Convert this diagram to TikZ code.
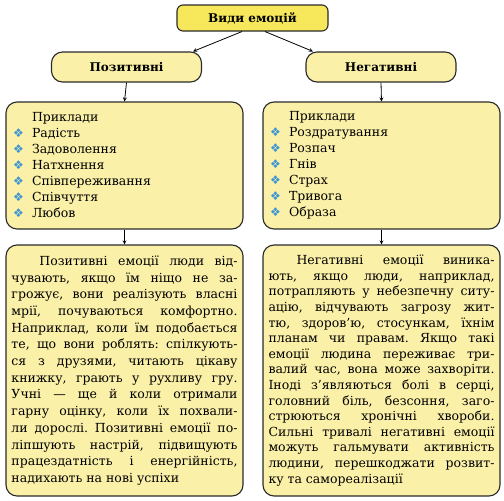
\documentclass[tikz,border=0pt]{standalone}
\usepackage{fontspec}
\setmainfont{DejaVu Serif}
\newfontfamily\bulletfont{DejaVu Sans}
\usetikzlibrary{calc}
\definecolor{titleyellow}{HTML}{F6E85A}
\definecolor{boxyellow}{HTML}{FBF0A8}
\definecolor{boxline}{HTML}{2A2A2A}
\definecolor{bulletblue}{HTML}{3E95D3}
\newcommand{\exitem}[1]{\makebox[19pt][l]{\bulletfont\color{bulletblue}\fontsize{12}{12}\selectfont\raisebox{0.5pt}{❖}}#1}
\frenchspacing

\begin{document}
\begin{tikzpicture}[
        x=1pt,
        y=-1pt,
        title box/.style={draw=boxline,line width=1.1pt,fill=titleyellow,rounded corners=6pt,
            minimum width=151pt,minimum height=26pt,font=\bfseries\fontsize{12}{14}\selectfont},
        kind box/.style={draw=boxline,line width=1.1pt,fill=boxyellow,rounded corners=11pt,
            minimum width=150pt,minimum height=30pt,font=\bfseries\fontsize{12}{14}\selectfont},
        example box/.style={draw=boxline,line width=1.1pt,fill=boxyellow,rounded corners=11pt,
            minimum height=127pt,text width=223pt,inner xsep=7pt,align=left,
            font=\fontsize{12.5}{16}\selectfont},
        text box/.style={draw=boxline,line width=1.1pt,fill=boxyellow,rounded corners=11pt,
            minimum height=251pt,text width=226pt,inner xsep=5.5pt,align=justify},
        branch arrow/.style={line width=0.8pt,->,>=stealth}
    ]
        \useasboundingbox (0,0) rectangle (504,501);

        % The root and the two kinds.
        \node[title box] (kinds) at (252.5,18) {Види емоцій};
        \node[kind box] (positive) at (126.5,67) {Позитивні};
        \node[kind box] (negative) at (381,67) {Негативні};
        \draw[branch arrow] ([xshift=-10.5pt]kinds.south) -- ([xshift=66.5pt]positive.north);
        \draw[branch arrow] ([xshift=12.5pt]kinds.south) -- ([xshift=-68pt]negative.north);

        % The examples of each kind.
        \node[example box] (posexamples) at (124.5,165.5)
            {\hspace*{19pt}Приклади\\ \exitem{Радість}\\ \exitem{Задоволення}\\
             \exitem{Натхнення}\\ \exitem{Співпереживання}\\ \exitem{Співчуття}\\
             \exitem{Любов}};
        \node[example box] (negexamples) at (381.5,165.5)
            {\hspace*{19pt}Приклади\\ \exitem{Роздратування}\\ \exitem{Розпач}\\
             \exitem{Гнів}\\ \exitem{Страх}\\ \exitem{Тривога}\\
             \exitem{Образа}};
        \draw[branch arrow] (positive.south) -- (posexamples.north);
        \draw[branch arrow] (negative.south) -- (negexamples.north);

        % The texts under the examples.
        \node[text box,font=\fontsize{12.5}{16.7}\selectfont] (postext) at (124.5,370.5)
            {\hspace*{28pt}Позитивні емоції люди від-\linebreak
             чувають, якщо їм ніщо не за-\linebreak
             грожує, вони реалізують власні\linebreak
             мрії, почуваються комфортно.\linebreak
             Наприклад, коли їм подобається\linebreak
             те, що вони роблять: спілкують-\linebreak
             ся з друзями, читають цікаву\linebreak
             книжку, грають у рухливу гру.\linebreak
             Учні — ще й коли отримали\linebreak
             гарну оцінку, коли їх похвали-\linebreak
             ли дорослі. Позитивні емоції по-\linebreak
             ліпшують настрій, підвищують\linebreak
             працездатність і енергійність,\linebreak
             надихають на нові успіхи};
        \node[text box,font=\fontsize{12.5}{15.6}\selectfont] (negtext) at (381.5,370.5)
            {\hspace*{28pt}Негативні емоції виника-\linebreak
             ють, якщо люди, наприклад,\linebreak
             потрапляють у небезпечну ситу-\linebreak
             ацію, відчувають загрозу жит-\linebreak
             тю, здоров’ю, стосункам, їхнім\linebreak
             планам чи правам. Якщо такі\linebreak
             емоції людина переживає три-\linebreak
             валий час, вона може захворіти.\linebreak
             Іноді з’являються болі в серці,\linebreak
             головний біль, безсоння, заго-\linebreak
             стрюються хронічні хвороби.\linebreak
             Сильні тривалі негативні емоції\linebreak
             можуть гальмувати активність\linebreak
             людини, перешкоджати розвит-\linebreak
             ку та самореалізації};
        \draw[branch arrow] (posexamples.south) -- (postext.north);
        \draw[branch arrow] (negexamples.south) -- (negtext.north);
    \end{tikzpicture}
\end{document}
